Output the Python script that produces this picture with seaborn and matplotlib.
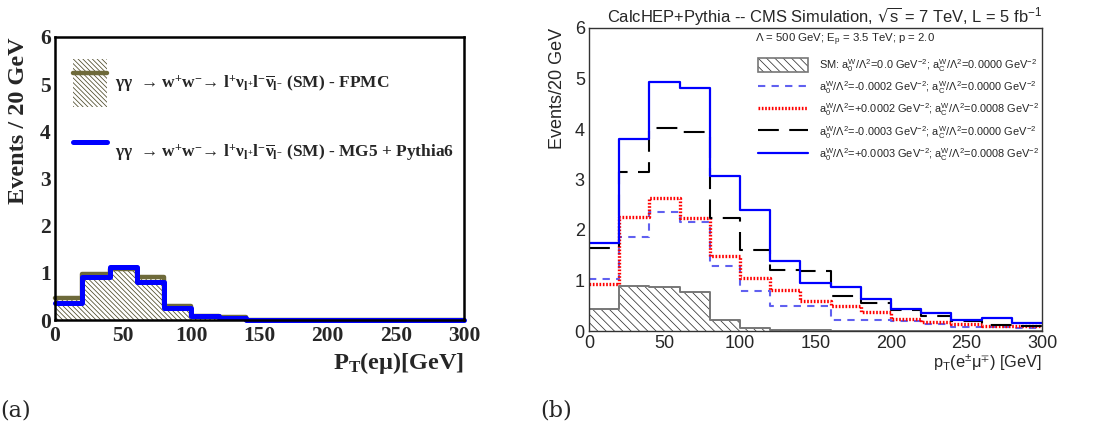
import numpy as np
import pandas as pd
import matplotlib
matplotlib.use("Agg")
import matplotlib.pyplot as plt
import seaborn as sns
from matplotlib.patches import Patch
from matplotlib.lines import Line2D
from matplotlib.ticker import MultipleLocator

# ---------------- data ----------------
bin_edges = list(range(0, 320, 20))          # 0..300 GeV, 20 GeV bins
bin_centers = [e + 10 for e in bin_edges[:-1]]

# panel (a)
fpmc = [0.46, 0.97, 1.08, 0.92, 0.30, 0.09, 0.06, 0.01, 0.01, 0.01, 0.01, 0.01, 0.01, 0.01, 0.01]
mg5 = [0.35, 0.92, 1.13, 0.81, 0.25, 0.08, 0.04, 0.01, 0.01, 0.01, 0.01, 0.01, 0.01, 0.01, 0.01]

# panel (b)
sm = [0.43, 0.89, 0.88, 0.78, 0.22, 0.05, 0.02, 0.01, 0.005, 0.005, 0.005, 0.005, 0.005, 0.005, 0.005]
a0_m0002 = [1.02, 1.87, 2.36, 2.16, 1.28, 0.80, 0.50, 0.50, 0.22, 0.22, 0.20, 0.14, 0.08, 0.07, 0.05]
a0_p0002 = [0.94, 2.26, 2.63, 2.24, 1.49, 1.04, 0.82, 0.60, 0.50, 0.37, 0.23, 0.17, 0.13, 0.10, 0.10]
a0_m0003 = [1.64, 3.15, 4.02, 3.95, 2.23, 1.60, 1.20, 1.19, 0.70, 0.55, 0.41, 0.30, 0.19, 0.12, 0.10]
a0_p0003 = [1.75, 3.81, 4.94, 4.81, 3.06, 2.40, 1.38, 0.96, 0.87, 0.63, 0.43, 0.35, 0.22, 0.25, 0.15]

legend_a = [
    "γγ  → w$^{+}$w$^{-}$→ l$^{+}$ν$_{l^{+}}$l$^{-}$$\\overline{ν}_{l^{-}}$ (SM) - FPMC",
    "γγ  → w$^{+}$w$^{-}$→ l$^{+}$ν$_{l^{+}}$l$^{-}$$\\overline{ν}_{l^{-}}$ (SM) - MG5 + Pythia6",
]
legend_b = [
    "SM: a$_{0}^{W}$/Λ$^{2}$=0.0 GeV$^{-2}$; a$_{C}^{W}$/Λ$^{2}$=0.0000 GeV$^{-2}$",
    "a$_{0}^{W}$/Λ$^{2}$=-0.0002 GeV$^{-2}$; a$_{C}^{W}$/Λ$^{2}$=0.0000 GeV$^{-2}$",
    "a$_{0}^{W}$/Λ$^{2}$=+0.0002 GeV$^{-2}$; a$_{C}^{W}$/Λ$^{2}$=0.0008 GeV$^{-2}$",
    "a$_{0}^{W}$/Λ$^{2}$=-0.0003 GeV$^{-2}$; a$_{C}^{W}$/Λ$^{2}$=0.0000 GeV$^{-2}$",
    "a$_{0}^{W}$/Λ$^{2}$=+0.0003 GeV$^{-2}$; a$_{C}^{W}$/Λ$^{2}$=0.0008 GeV$^{-2}$",
]

# ---------------- style ----------------
sns.set_style("white")
plt.rcParams["mathtext.default"] = "regular"
plt.rcParams["hatch.linewidth"] = 0.55
plt.rcParams["font.family"] = ["Liberation Sans", "DejaVu Sans"]

W, H = 1100, 438
fig = plt.figure(figsize=(11, 4.38), dpi=100)

def frac_box(x0, y0, x1, y1):
    return [x0 / W, 1 - y1 / H, (x1 - x0) / W, (y1 - y0) / H]

axA = fig.add_axes(frac_box(55, 37, 464, 320))
axB = fig.add_axes(frac_box(589, 28, 1042, 331))

OLIVE = "#6e6a3a"
HATCH_COL_A = "#4a4726"
SERIF = ["Liberation Serif", "DejaVu Serif"]
HATCH_A = "\\" * 7
HATCH_B = "\\" * 4


def step(ax, vals, **kw):
    sns.histplot(x=bin_centers, weights=vals, bins=bin_edges, element="step",
                 fill=False, ax=ax, **kw)


def hatched(ax, vals, hatch, hcolor):
    sns.histplot(x=bin_centers, weights=vals, bins=bin_edges, element="step",
                 fill=True, ax=ax, linewidth=0, color=hcolor)
    coll = ax.collections[-1]
    coll.set_facecolor("none")
    coll.set_edgecolor(hcolor)
    coll.set_hatch(hatch)
    coll.set_linewidth(0)


def legend_hh(px, fs):
    # handleheight giving a handle box of `px` pixels at font size fs (pt)
    pt = px * 72 / 100
    return (pt / fs - 0.245) / 0.65


# ---------------- panel (a) ----------------
hatched(axA, fpmc, HATCH_A, HATCH_COL_A)
step(axA, fpmc, color=OLIVE, linewidth=3.2)
step(axA, mg5, color="#0000ff", linewidth=3.6)
for ln in axA.lines:
    ln.set_clip_on(False)

axA.set_xlim(0, 300)
axA.set_ylim(0, 6)
axA.xaxis.set_major_locator(MultipleLocator(50))
axA.xaxis.set_minor_locator(MultipleLocator(10))
axA.yaxis.set_major_locator(MultipleLocator(1))
axA.yaxis.set_minor_locator(MultipleLocator(0.2))
axA.tick_params(axis="both", which="both", direction="in", color="black", width=1.2)
axA.tick_params(axis="y", which="major", length=8.5, pad=3)
axA.tick_params(axis="y", which="minor", length=5)
axA.tick_params(axis="x", which="major", length=4, pad=4)
axA.tick_params(axis="x", which="minor", length=2)
for lab in axA.get_xticklabels() + axA.get_yticklabels():
    lab.set_fontfamily(SERIF)
    lab.set_fontweight("bold")
    lab.set_fontsize(15.5)
for s in axA.spines.values():
    s.set_linewidth(1.8)
    s.set_color("black")
axA.set_xlabel("P$_{T}$(eμ)[GeV]", family=SERIF, weight="bold", fontsize=17.5, loc="right")
axA.xaxis.set_label_coords(1.0, -(363 - 320) / 283)
axA.xaxis.label.set_va("center")
axA.set_ylabel("Events / 20 GeV", family=SERIF, weight="bold", fontsize=17.5, loc="top")
axA.yaxis.set_label_coords((29 - 55) / 409, 1.0)

hA1 = (Patch(facecolor="white", edgecolor=HATCH_COL_A, hatch=HATCH_A, linewidth=0),
       Line2D([], [], color=OLIVE, linewidth=3.2))
hA2 = Line2D([], [], color="#0000ff", linewidth=3.6)
fsA = 12.5
fpx = fsA * 100 / 72
legA = fig.legend([hA1, hA2], legend_a, loc="upper left",
                  bbox_to_anchor=(73 / W, 1 - 59 / H), frameon=False,
                  borderpad=0, borderaxespad=0,
                  handlelength=34 / fpx, handleheight=legend_hh(48, fsA),
                  labelspacing=21 / fpx, handletextpad=8 / fpx,
                  prop={"family": SERIF, "weight": "bold", "size": fsA})

# ---------------- panel (b) ----------------
SMC = "#777777"
hatched(axB, sm, HATCH_B, "#333333")
step(axB, sm, color=SMC, linewidth=1.4)
step(axB, a0_m0002, color="#6060f0", linewidth=1.5, linestyle=(0, (3.5, 3)))
step(axB, a0_p0002, color="#ff0000", linewidth=2.4, linestyle=(0, (0.5, 0.5)))
step(axB, a0_m0003, color="black", linewidth=1.5, linestyle=(0, (10, 5)))
step(axB, a0_p0003, color="#0000ff", linewidth=1.6)

axB.set_xlim(0, 300)
axB.set_ylim(0, 6)
axB.xaxis.set_major_locator(MultipleLocator(50))
axB.xaxis.set_minor_locator(MultipleLocator(10))
axB.yaxis.set_major_locator(MultipleLocator(1))
axB.yaxis.set_minor_locator(MultipleLocator(0.2))
axB.tick_params(axis="both", which="both", direction="in", color="#555555", width=1.0)
axB.tick_params(axis="y", which="major", length=10, pad=3)
axB.tick_params(axis="y", which="minor", length=5)
axB.tick_params(axis="x", which="major", length=6.5, pad=3)
axB.tick_params(axis="x", which="minor", length=3)
for lab in axB.get_xticklabels() + axB.get_yticklabels():
    lab.set_fontsize(13)
for s in axB.spines.values():
    s.set_linewidth(1.0)
    s.set_color("#333333")
axB.set_title("CalcHEP+Pythia -- CMS Simulation, $\\sqrt{s}$ = 7 TeV, L = 5 fb$^{-1}$",
              fontsize=11.9, loc="right", pad=4)
axB.set_xlabel("p$_{T}$(e$^{\\pm}$μ$^{\\mp}$) [GeV]", fontsize=11.8, loc="right")
axB.xaxis.set_label_coords(1.0, -(363 - 331) / 303)
axB.xaxis.label.set_va("center")
axB.set_ylabel("Events/20 GeV", fontsize=13, loc="top")
axB.yaxis.set_label_coords((566 - 589) / 453, 1.0)

fig.text(755 / W, 1 - 40 / H, "Λ = 500 GeV; E$_{p}$ = 3.5 TeV; p = 2.0",
         fontsize=8.2, va="center", ha="left")

hB = [
    (Patch(facecolor="white", edgecolor="#333333", hatch=HATCH_B, linewidth=0),
     Patch(facecolor="none", edgecolor=SMC, linewidth=1.2)),
    Line2D([], [], color="#6060f0", linewidth=1.5, linestyle=(0, (3.5, 3))),
    Line2D([], [], color="#ff0000", linewidth=2.4, linestyle=(0, (0.5, 0.5))),
    Line2D([], [], color="black", linewidth=1.5, linestyle=(0, (10, 5))),
    Line2D([], [], color="#0000ff", linewidth=1.6),
]
fsB = 7.9
fpxB = fsB * 100 / 72
legB = fig.legend(hB, legend_b, loc="upper left",
                  bbox_to_anchor=(758 / W, 1 - 57 / H), frameon=False,
                  borderpad=0, borderaxespad=0,
                  handlelength=50 / fpxB, handleheight=legend_hh(14, fsB),
                  labelspacing=0.5, handletextpad=11 / fpxB,
                  prop={"size": fsB})

# panel labels
fig.text(0.0, 1 - 411 / H, "(a)", family=["DejaVu Serif"], fontsize=16, va="center", ha="left")
fig.text(540 / W, 1 - 411 / H, "(b)", family=["DejaVu Serif"], fontsize=16, va="center", ha="left")

fig.savefig("out.png", dpi=100)
